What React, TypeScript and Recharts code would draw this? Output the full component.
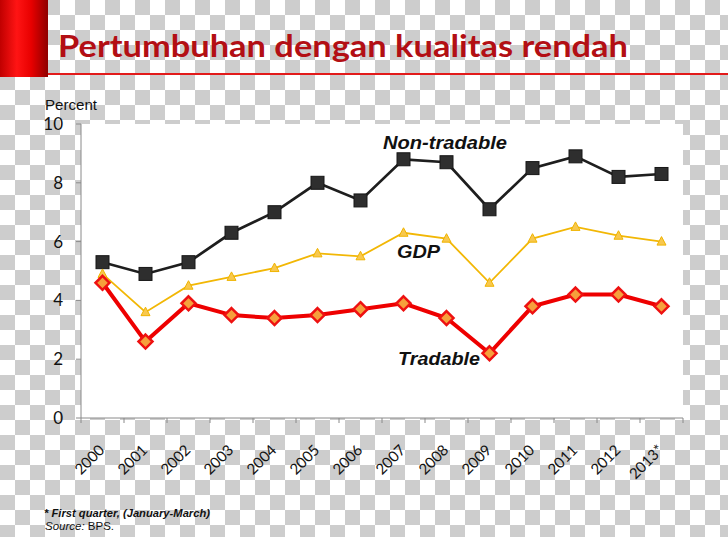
import { LineChart, Line, XAxis, YAxis, CartesianGrid } from 'recharts'

const years = ['2000', '2001', '2002', '2003', '2004', '2005', '2006', '2007', '2008', '2009', '2010', '2011', '2012', '2013*']
const nonTradable = [5.3, 4.9, 5.3, 6.3, 7.0, 8.0, 7.4, 8.8, 8.7, 7.1, 8.5, 8.9, 8.2, 8.3]
const gdp = [4.9, 3.6, 4.5, 4.8, 5.1, 5.6, 5.5, 6.3, 6.1, 4.6, 6.1, 6.5, 6.2, 6.0]
const tradable = [4.6, 2.6, 3.9, 3.5, 3.4, 3.5, 3.7, 3.9, 3.4, 2.2, 3.8, 4.2, 4.2, 3.8]
const yTicks = [0, 2, 4, 6, 8, 10]

const data = years.map((year, i) => ({
  year,
  nonTradable: nonTradable[i],
  gdp: gdp[i],
  tradable: tradable[i],
}))

const PLOT_LEFT = 81
const PLOT_RIGHT = 683
const BAND = (PLOT_RIGHT - PLOT_LEFT) / years.length

const checker = 'repeating-conic-gradient(#cdcdcd 0 25%, #ffffff 0 50%) 0 0 / 30px 30px'

function YearTick(props: any) {
  const { x, y, payload, index } = props
  const half = BAND / 2
  return (
    <g>
      <line x1={x - half} x2={x - half} y1={y} y2={y + 5} stroke="#8a8a8a" />
      {index === years.length - 1 && (
        <line x1={x + half} x2={x + half} y1={y} y2={y + 5} stroke="#8a8a8a" />
      )}
      <text
        x={x + 3}
        y={y + 33}
        textAnchor="end"
        transform={`rotate(-45, ${x + 3}, ${y + 33})`}
        fontFamily="Lato"
        fontSize={15}
        fill="#111"
      >
        {payload.value}
      </text>
    </g>
  )
}

const squareDot = (p: any) => (
  <rect key={`sq-${p.index}`} x={p.cx - 6.5} y={p.cy - 6.5} width={13} height={13} fill="#2e2e2e" stroke="#161616" />
)

const triangleDot = (p: any) => (
  <polygon
    key={`tr-${p.index}`}
    points={`${p.cx},${p.cy - 5} ${p.cx + 4.5},${p.cy + 3.5} ${p.cx - 4.5},${p.cy + 3.5}`}
    fill="#f8c84e"
    stroke="#f0b400"
  />
)

const diamondDot = (p: any) => (
  <polygon
    key={`di-${p.index}`}
    points={`${p.cx},${p.cy - 7} ${p.cx + 7},${p.cy} ${p.cx},${p.cy + 7} ${p.cx - 7},${p.cy}`}
    fill="#f6a03c"
    stroke="#ee1111"
    strokeWidth={2.5}
  />
)

export default function App() {
  return (
    <div style={{ position: 'absolute', left: 0, top: 0, width: 728, height: 537, background: checker, overflow: 'hidden' }}>
      {/* header bar + rule */}
      <div
        style={{
          position: 'absolute', left: 0, top: 0, width: 48, height: 77,
          background: 'linear-gradient(to right, #c00000 0%, #ff1414 35%, #e80000 65%, #8e0000 100%)',
        }}
      />
      <div style={{ position: 'absolute', left: 48, top: 73, width: 680, height: 2, background: '#e21a1a' }} />

      <LineChart
        width={728}
        height={537}
        data={data}
        margin={{ top: 124, right: 45, left: 41, bottom: 59 }}
        style={{ position: 'absolute', left: 0, top: 0 }}
      >
        <CartesianGrid fill="#ffffff" stroke="none" horizontal={false} vertical={false} />
        <XAxis
          dataKey="year"
          scale="band"
          interval={0}
          height={60}
          axisLine={{ stroke: '#8a8a8a' }}
          tickLine={false}
          tickSize={0}
          tickMargin={0}
          tick={<YearTick />}
        />
        <YAxis
          domain={[0, 10]}
          ticks={yTicks}
          width={40}
          axisLine={{ stroke: '#8a8a8a' }}
          tickLine={{ stroke: '#8a8a8a' }}
          tickSize={5}
          tickMargin={13}
          tick={{ fontFamily: 'Lato', fontSize: 17, fill: '#111' }}
        />
        <Line dataKey="nonTradable" stroke="#1e1e1e" strokeWidth={2.7} dot={squareDot} isAnimationActive={false} />
        <Line dataKey="gdp" stroke="#f2b705" strokeWidth={1.8} dot={triangleDot} isAnimationActive={false} />
        <Line dataKey="tradable" stroke="#ee0000" strokeWidth={4} dot={diamondDot} isAnimationActive={false} />
      </LineChart>

      <svg width={728} height={537} style={{ position: 'absolute', left: 0, top: 0, pointerEvents: 'none' }}>
        <text x={58} y={57} fontFamily="Lato" fontWeight={700} fontSize={31} fill="#b30f14" textLength={570} lengthAdjust="spacingAndGlyphs">
          Pertumbuhan dengan kualitas rendah
        </text>
        <text x={45} y={110} fontFamily="Liberation Sans" fontSize={14} fill="#111" textLength={52} lengthAdjust="spacingAndGlyphs">
          Percent
        </text>
        <g fontFamily="Liberation Sans" fontWeight={700} fontStyle="italic" fontSize={18} fill="#111">
          <text x={383} y={149} textLength={124} lengthAdjust="spacingAndGlyphs">Non-tradable</text>
          <text x={397} y={258} textLength={43} lengthAdjust="spacingAndGlyphs">GDP</text>
          <text x={398} y={365} textLength={82} lengthAdjust="spacingAndGlyphs">Tradable</text>
        </g>
        <g fontFamily="Liberation Sans" fontSize={11.5} fill="#111">
          <text x={44} y={517} fontStyle="italic" fontWeight={700} textLength={166} lengthAdjust="spacingAndGlyphs">
            * First quarter, (January-March)
          </text>
          <text x={45} y={530}>
            <tspan fontStyle="italic">Source:</tspan> BPS.
          </text>
        </g>
      </svg>
    </div>
  )
}
